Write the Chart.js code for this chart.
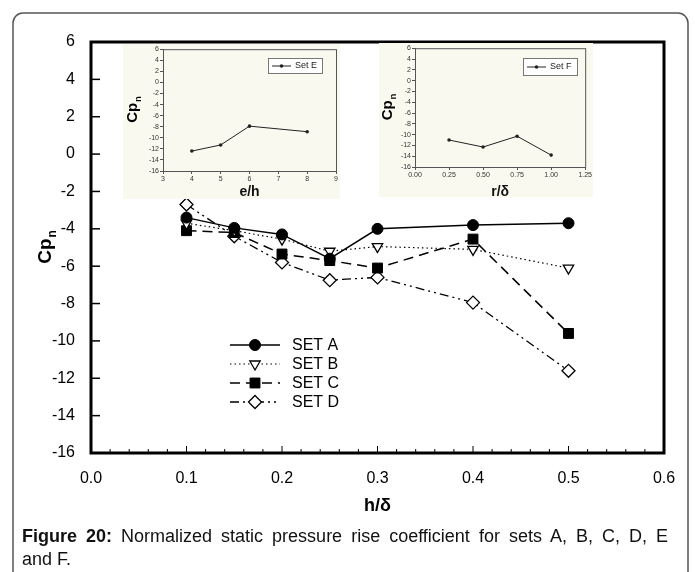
<!DOCTYPE html>
<html>
<head>
<meta charset="utf-8">
<script src="https://cdn.jsdelivr.net/npm/chart.js@4.4.1/dist/chart.umd.min.js"></script>
<style>
  html, body { margin: 0; padding: 0; background: #fff; }
  #wrap { position: relative; width: 695px; height: 572px; overflow: hidden; font-family: "Liberation Sans", Arial, sans-serif; }
  #main { position: absolute; left: 0; top: 0; }
  .inset { position: absolute; background: #faf9f0; }
  #insetE { left: 123px; top: 44px; }
  #insetF { left: 379px; top: 43px; }
  #caption { position: absolute; left: 22px; top: 525px; width: 646px; font-size: 18px; line-height: 23px; color: #111; }
  #cap1 { text-align: justify; text-align-last: justify; }
</style>
</head>
<body>
<div id="wrap">
  <canvas id="main" width="695" height="572"></canvas>
  <canvas id="insetE" class="inset" width="217" height="155"></canvas>
  <canvas id="insetF" class="inset" width="214" height="154"></canvas>
  <div id="caption">
    <div id="cap1"><b>Figure 20:</b> Normalized static pressure rise coefficient for sets A, B, C, D, E</div>
    <div>and F.</div>
  </div>
</div>
<script>
// main chart data
const h_delta = [0.1, 0.15, 0.2, 0.25, 0.3, 0.4, 0.5];
const setA = [-3.4, -3.95, -4.3, -5.6, -4.0, -3.8, -3.7];
const setB = [-3.7, -4.1, -4.55, -5.2, -4.95, -5.1, -6.1];
const setC = [-4.1, -4.2, -5.35, -5.7, -6.1, -4.55, -9.6];
const setD = [-2.7, -4.4, -5.8, -6.75, -6.6, -7.95, -11.6];

// inset data
const e_h = [4, 5, 6, 8];
const setE = [-12.4, -11.3, -7.9, -8.9];
const r_delta = [0.25, 0.5, 0.75, 1.0];
const setF = [-11.0, -12.3, -10.3, -13.8];

const FONT = '"Liberation Sans", Arial, sans-serif';

function pts(xs, ys) {
    return xs.map((x, i) => ({ x: x, y: ys[i] }));
}

// rotated "Cp" with subscript n
function drawCpn(ctx, x, y, size) {
    ctx.save();
    ctx.translate(x, y);
    ctx.rotate(-Math.PI / 2);
    ctx.font = 'bold ' + size + 'px ' + FONT;
    const w1 = ctx.measureText('Cp').width;
    ctx.font = 'bold ' + Math.round(size * 0.62) + 'px ' + FONT;
    const w2 = ctx.measureText('n').width;
    const x0 = -(w1 + w2) / 2;
    ctx.fillStyle = '#000';
    ctx.textBaseline = 'middle';
    ctx.textAlign = 'left';
    ctx.font = 'bold ' + size + 'px ' + FONT;
    ctx.fillText('Cp', x0, 0);
    ctx.font = 'bold ' + Math.round(size * 0.62) + 'px ' + FONT;
    ctx.fillText('n', x0 + w1 + 1, size * 0.35);
    ctx.restore();
}

const mainDecor = {
    id: 'mainDecor',
    beforeDraw(chart) {
        const ctx = chart.ctx;
        ctx.save();
        ctx.fillStyle = '#fff';
        ctx.fillRect(0, 0, chart.width, chart.height);
        // rounded outer frame
        ctx.strokeStyle = '#555';
        ctx.lineWidth = 1.5;
        const x0 = 13, y0 = 13, x1 = 688, y1 = 620, r = 10;
        ctx.beginPath();
        ctx.moveTo(x0, y1);
        ctx.lineTo(x0, y0 + r);
        ctx.arcTo(x0, y0, x0 + r, y0, r);
        ctx.lineTo(x1 - r, y0);
        ctx.arcTo(x1, y0, x1, y0 + r, r);
        ctx.lineTo(x1, y1);
        ctx.stroke();
        ctx.restore();
    },
    afterDraw(chart) {
        const ctx = chart.ctx;
        const a = chart.chartArea;
        const xs = chart.scales.x, ys = chart.scales.y;
        ctx.save();
        ctx.strokeStyle = '#000';
        // inward ticks
        ctx.lineWidth = 1.5;
        ys.ticks.forEach(t => {
            const py = ys.getPixelForValue(t.value);
            ctx.beginPath(); ctx.moveTo(a.left, py); ctx.lineTo(a.left + 9, py); ctx.stroke();
        });
        ctx.lineWidth = 1;
        for (let i = 0; i <= 30; i++) {
            const px = xs.getPixelForValue(i * 0.02);
            const len = (i % 5 === 0) ? 7 : 4;
            ctx.beginPath(); ctx.moveTo(px, a.bottom); ctx.lineTo(px, a.bottom - len); ctx.stroke();
        }
        // thick box
        ctx.lineWidth = 3;
        ctx.strokeRect(a.left, a.top, a.right - a.left, a.bottom - a.top);

        // axis titles
        ctx.fillStyle = '#000';
        ctx.font = 'bold 18px ' + FONT;
        ctx.textAlign = 'center';
        ctx.textBaseline = 'middle';
        ctx.fillText('h/\u03b4', (a.left + a.right) / 2, 506);
        drawCpn(ctx, 46, (a.top + a.bottom) / 2, 19);

        // legend
        const ds = chart.data.datasets;
        const lx0 = 230, lx1 = 280, mx = 255, tx = 292, ly = 345, step = 19;
        ds.forEach((d, i) => {
            const y = ly + i * step;
            ctx.save();
            ctx.strokeStyle = '#000';
            ctx.lineWidth = d.borderWidth;
            ctx.setLineDash(d.borderDash || []);
            ctx.beginPath(); ctx.moveTo(lx0, y); ctx.lineTo(lx1, y); ctx.stroke();
            ctx.restore();
            ctx.save();
            ctx.fillStyle = d.pointBackgroundColor;
            ctx.strokeStyle = '#000';
            ctx.lineWidth = d.pointBorderWidth;
            Chart.helpers.drawPoint(ctx, {
                pointStyle: d.pointStyle,
                rotation: d.pointRotation || 0,
                radius: d.pointRadius,
                borderWidth: d.pointBorderWidth
            }, mx, y);
            ctx.restore();
            ctx.fillStyle = '#000';
            ctx.font = '16px ' + FONT;
            ctx.textAlign = 'left';
            ctx.fillText(d.label, tx, y + 1);
        });
        ctx.restore();
    }
};

new Chart(document.getElementById('main'), {
    type: 'line',
    data: {
        datasets: [{
            label: 'SET A',
            data: pts(h_delta, setA),
            borderColor: '#000',
            borderWidth: 1.5,
            pointStyle: 'circle',
            pointRadius: 5.5,
            pointBackgroundColor: '#000',
            pointBorderColor: '#000',
            pointBorderWidth: 1
        }, {
            label: 'SET B',
            data: pts(h_delta, setB),
            borderColor: '#000',
            borderWidth: 1.2,
            borderDash: [1.5, 3],
            pointStyle: 'triangle',
            pointRotation: 180,
            pointRadius: 6,
            pointBackgroundColor: '#fff',
            pointBorderColor: '#000',
            pointBorderWidth: 1.3
        }, {
            label: 'SET C',
            data: pts(h_delta, setC),
            borderColor: '#000',
            borderWidth: 1.5,
            borderDash: [10, 6],
            pointStyle: 'rect',
            pointRadius: 7,
            pointBackgroundColor: '#000',
            pointBorderColor: '#000',
            pointBorderWidth: 1
        }, {
            label: 'SET D',
            data: pts(h_delta, setD),
            borderColor: '#000',
            borderWidth: 1.3,
            borderDash: [9, 4, 2, 4, 2, 4],
            pointStyle: 'rectRot',
            pointRadius: 6.5,
            pointBackgroundColor: '#fff',
            pointBorderColor: '#000',
            pointBorderWidth: 1.3
        }]
    },
    options: {
        responsive: false,
        animation: false,
        devicePixelRatio: 1,
        layout: { padding: { left: 0, top: 42, right: 31, bottom: 0 } },
        plugins: { legend: { display: false }, tooltip: { enabled: false } },
        scales: {
            x: {
                type: 'linear',
                min: 0, max: 0.6,
                grid: { display: false },
                border: { display: false },
                ticks: {
                    stepSize: 0.1,
                    padding: 8,
                    color: '#000',
                    font: { family: FONT, size: 16 },
                    callback: v => v.toFixed(1)
                },
                afterFit: s => { s.height = 119; }
            },
            y: {
                min: -16, max: 6,
                grid: { display: false },
                border: { display: false },
                ticks: {
                    stepSize: 2,
                    padding: 8,
                    color: '#000',
                    font: { family: FONT, size: 16 }
                },
                afterFit: s => { s.width = 91; }
            }
        }
    },
    plugins: [mainDecor]
});

// inset charts
const insetDecor = {
    id: 'insetDecor',
    afterDraw(chart, args, opts) {
        const ctx = chart.ctx;
        const a = chart.chartArea;
        ctx.save();
        ctx.strokeStyle = '#555';
        ctx.lineWidth = 1;
        ctx.strokeRect(a.left + 0.5, a.top + 0.5, a.right - a.left, a.bottom - a.top);
        // legend box
        const b = opts.box;
        ctx.fillStyle = '#fff';
        ctx.fillRect(b.x, b.y, b.w, b.h);
        ctx.strokeStyle = '#777';
        ctx.strokeRect(b.x + 0.5, b.y + 0.5, b.w, b.h);
        const my = b.y + b.h / 2 + 0.5;
        ctx.strokeStyle = '#222';
        ctx.beginPath(); ctx.moveTo(b.x + 4, my); ctx.lineTo(b.x + 23, my); ctx.stroke();
        ctx.fillStyle = '#222';
        ctx.beginPath(); ctx.arc(b.x + 13.5, my, 1.8, 0, Math.PI * 2); ctx.fill();
        ctx.font = '9px ' + FONT;
        ctx.textBaseline = 'middle';
        ctx.textAlign = 'left';
        ctx.fillText(chart.data.datasets[0].label, b.x + 27, my);
        // titles
        ctx.fillStyle = '#111';
        ctx.font = 'bold 14px ' + FONT;
        ctx.textAlign = 'center';
        ctx.fillText(opts.xTitle, (a.left + a.right) / 2, opts.xTitleY);
        drawCpn(ctx, opts.yTitleX, (a.top + a.bottom) / 2, 15);
        ctx.restore();
    }
};

function makeInset(id, label, xs, ys, xMin, xMax, xStep, xFmt, pad, xh, yw, box, xTitle, xTitleY, yTitleX) {
    return new Chart(document.getElementById(id), {
        type: 'line',
        data: {
            datasets: [{
                label: label,
                data: pts(xs, ys),
                borderColor: '#222',
                borderWidth: 1,
                pointRadius: 1.8,
                pointBackgroundColor: '#222',
                pointBorderWidth: 0
            }]
        },
        options: {
            responsive: false,
            animation: false,
            devicePixelRatio: 1,
            layout: { padding: pad },
            plugins: {
                legend: { display: false },
                tooltip: { enabled: false },
                insetDecor: { box: box, xTitle: xTitle, xTitleY: xTitleY, yTitleX: yTitleX }
            },
            scales: {
                x: {
                    type: 'linear',
                    min: xMin, max: xMax,
                    grid: { drawOnChartArea: false, tickLength: 3, color: '#555' },
                    border: { color: '#555' },
                    ticks: { stepSize: xStep, autoSkip: false, maxRotation: 0, padding: 1, color: '#333', font: { family: FONT, size: 7 }, callback: xFmt },
                    afterFit: s => { s.height = xh; }
                },
                y: {
                    min: -16, max: 6,
                    grid: { drawOnChartArea: false, tickLength: 3, color: '#555' },
                    border: { color: '#555' },
                    ticks: { stepSize: 2, autoSkip: false, padding: 1, color: '#333', font: { family: FONT, size: 7 } },
                    afterFit: s => { s.width = yw; }
                }
            }
        },
        plugins: [insetDecor]
    });
}

makeInset('insetE', 'Set E', e_h, setE, 3, 9, 1, v => String(v),
    { left: 0, top: 1, right: 2, bottom: 0 }, 28, 40,
    { x: 145, y: 14, w: 54, h: 15 }, 'e/h', 148, 10);

makeInset('insetF', 'Set F', r_delta, setF, 0, 1.25, 0.25, v => v.toFixed(2),
    { left: 0, top: 1, right: 7, bottom: 0 }, 30, 36,
    { x: 144, y: 15, w: 54, h: 17 }, 'r/\u03b4', 149, 9);
</script>
</body>
</html>
